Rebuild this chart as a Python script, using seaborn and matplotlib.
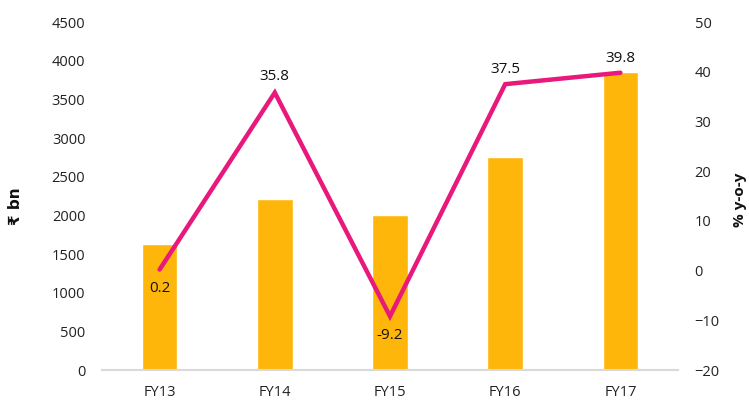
import matplotlib
matplotlib.use("Agg")
import matplotlib.pyplot as plt
import seaborn as sns
import pandas as pd

categories = ["FY13", "FY14", "FY15", "FY16", "FY17"]
values_bn = [1630, 2210, 2000, 2750, 3850]
yoy_pct = [0.2, 35.8, -9.2, 37.5, 39.8]
yoy_labels = ["0.2", "35.8", "-9.2", "37.5", "39.8"]

sns.set_theme(style="white")
plt.rcParams["font.family"] = ["Open Sans", "DejaVu Sans"]

df = pd.DataFrame({"cat": categories, "val": values_bn, "yoy": yoy_pct})

fig = plt.figure(figsize=(7.49, 4.0), dpi=100)
ax = fig.add_axes([102 / 749, 30 / 400, 576 / 749, 348 / 400])
sns.barplot(data=df, x="cat", y="val", color="#FFB60B", saturation=1, width=0.31, ax=ax)
ax.set_ylim(0, 4500)
ax.set_yticks(range(0, 4501, 500))
ax.set_xlim(-0.5, 4.5)
ax.set_xlabel("")
ax.set_ylabel("")
for s in ["left", "right", "top"]:
    ax.spines[s].set_visible(False)
ax.spines["bottom"].set_color("#D9D9D9")
ax.spines["bottom"].set_linewidth(1.5)
ax.tick_params(axis="both", length=0, labelsize=10.5, colors="#222222")
ax.tick_params(axis="y", pad=12)
ax.tick_params(axis="x", pad=11)

ax2 = ax.twinx()
sns.lineplot(x=list(range(len(categories))), y=yoy_pct, color="#E8197A", linewidth=3.2, ax=ax2,
             solid_capstyle="round", solid_joinstyle="miter")
ax2.set_ylim(-20, 50)
ax2.set_yticks(range(-20, 51, 10))
ax2.set_xlim(-0.5, 4.5)
ax2.set_ylabel("")
for s in ["left", "right", "top", "bottom"]:
    ax2.spines[s].set_visible(False)
ax2.tick_params(axis="y", length=0, labelsize=10.5, colors="#222222", pad=12)

ax.text(-0.151, 0.47, "₹ bn", transform=ax.transAxes, rotation=90, ha="center", va="center",
        fontsize=11, fontweight="bold", family=["DejaVu Sans"], color="#111111")
ax.text(1.108, 0.49, "% y-o-y", transform=ax.transAxes, rotation=90, ha="center", va="center",
        fontsize=11, fontweight="bold", color="#111111")

offsets = [-3.8, 3.3, -3.8, 3.0, 2.8]
for i, (v, lab, off) in enumerate(zip(yoy_pct, yoy_labels, offsets)):
    ax2.text(i, v + off, lab, ha="center", va="center", fontsize=11, color="#111111")

fig.savefig("out.png", dpi=100)
